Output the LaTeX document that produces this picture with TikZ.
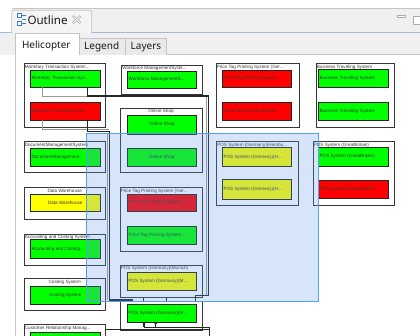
\documentclass[tikz,border=0pt]{standalone}
\usepackage{fontspec}
\setmainfont{Noto Sans}
\newfontfamily\diagfont{Liberation Sans}
\usetikzlibrary{arrows.meta}

\definecolor{uibg}{HTML}{F0F0F0}
\definecolor{uitab}{HTML}{F4F4F4}
\definecolor{uitabin}{HTML}{EAEAEA}
\definecolor{uiline}{HTML}{C4C4C4}
\definecolor{uiblue}{HTML}{A3BAD8}
\definecolor{iconblue}{HTML}{3E7BC9}
\definecolor{boxgreen}{HTML}{00FF00}
\definecolor{boxred}{HTML}{FF0000}
\definecolor{boxyellow}{HTML}{FFFF00}
\definecolor{selfill}{RGB}{92,152,232}
\definecolor{seledge}{RGB}{86,160,240}

% outer container with its title in the top left corner
\newcommand\mkouter[6]{%
  \node[outerbox, minimum width={#4pt-#2pt}, minimum height={#5pt-#3pt}] (#1) at (#2,#3) {};
  \node[titletext, anchor=north west] (#1-t) at ([xshift=0.6pt,yshift=-1.3pt]#1.north west) {#6};}
% outer container with a centred title
\newcommand\mkouterc[6]{%
  \node[outerbox, minimum width={#4pt-#2pt}, minimum height={#5pt-#3pt}] (#1) at (#2,#3) {};
  \node[titletext, anchor=north] (#1-t) at ([yshift=-1.3pt]#1.north) {#6};}
% coloured component, centred label
\newcommand\mkinner[7]{%
  \node[innerbox, fill=#6, minimum width={#4pt-#2pt}, minimum height={#5pt-#3pt}] (#1) at (#2,#3) {\makebox[0pt]{#7}};}
% coloured component, label starting at the left edge
\newcommand\mkinnerl[7]{%
  \node[innerbox, fill=#6, minimum width={#4pt-#2pt}, minimum height={#5pt-#3pt}] (#1) at (#2,#3) {};
  \node[boxtext, anchor=west] (#1-l) at ([xshift=0.9pt]#1.west) {#7};}

\begin{document}
\begin{tikzpicture}[x=1pt,y=-1pt,
  outerbox/.style={draw=black!78, line width=0.8pt, fill=white, inner sep=0pt, outer sep=0pt, anchor=north west},
  innerbox/.style={draw=black!85, line width=0.8pt, inner sep=0pt, outer sep=0pt, anchor=north west,
    font=\diagfont\fontsize{4.6}{5}\selectfont, text=black!78},
  boxtext/.style={font=\diagfont\fontsize{4.6}{5}\selectfont, text=black!78, inner sep=0pt},
  titletext/.style={font=\diagfont\fontsize{4.6}{5}\selectfont, text=black!78, inner sep=0pt},
  conn/.style={draw=black!85, line width=1.1pt},
  connlite/.style={draw=black!40, line width=0.7pt},
  tabtext/.style={font=\fontsize{10}{12}\selectfont, text=black!90, inner sep=0pt},
  tabedge/.style={draw=uiline, line width=0.7pt},
  sel/.style={fill=selfill, fill opacity=0.25},
  seledgestyle/.style={draw=seledge, line width=0.8pt}
]
\clip (0,0) rectangle (420,336);
\fill[white] (0,0) rectangle (420,336);

% ---- view toolbar ----
\fill[uibg] (11.5,8.5) rectangle (420,32.5);
\fill[uibg] (0,32.5) rectangle (420,55);
\draw[draw=uiline, line width=0.6pt] (11.5,8.6) -- (420,8.6);
\draw[draw=uiblue, line width=1.3pt] (0,32.6) -- (420,32.6);
\draw[tabedge, fill=uitab, rounded corners=2pt] (11.7,33.2) -- (11.7,10.2) -- (91.7,10.2) -- (91.7,33.2);
% outline icon
\draw[draw=iconblue, fill=white, line width=0.6pt] (16.8,13.6) rectangle (21,17.6);
\draw[draw=iconblue, fill=white, line width=0.6pt] (16.8,21.8) rectangle (21,25.8);
\draw[draw=iconblue, line width=0.6pt] (22.2,15.6) -- (25.8,15.6) (22.2,19.6) -- (25.8,19.6) (22.2,23.8) -- (25.8,23.8);
\node[font=\fontsize{11.6}{13}\selectfont, text=black!90, inner sep=0pt, anchor=west] (viewtitle) at (27.3,20.3) {Outline};
% close button
\draw[draw=gray!70, line width=2.3pt] (73,16.2) -- (80.4,23) (73,23) -- (80.4,16.2);
\draw[draw=white, line width=0.9pt] (73.3,16.5) -- (80.1,22.7) (73.3,22.7) -- (80.1,16.5);
% minimise / maximise
\draw[draw=gray!65, fill=white, line width=0.6pt] (396.8,15) rectangle (405,17.6);
\draw[draw=gray!65, fill=white, line width=0.6pt] (413.2,16.2) rectangle (424,24);
\draw[draw=gray!65, line width=1.2pt] (413.2,16.6) -- (424,16.6);

% ---- diagram tabs ----
\draw[draw=uiline, line width=0.7pt] (79,54.8) -- (420,54.8);
\draw[tabedge, fill=uitabin] (79,54.8) -- (79,38.3) -- (125,38.3) -- (125,54.8);
\draw[tabedge, fill=uitabin] (125,54.8) -- (125,38.3) -- (166.7,38.3) -- (166.7,54.8);
\fill[white] (15,55.2) rectangle (420,336);
\draw[tabedge, fill=white] (15,336) -- (15,33.5) -- (79,33.5) -- (79,55.2);
\node[tabtext, anchor=base west] (tabheli) at (21.8,48.4) {Helicopter};
\node[tabtext, anchor=base west] (tablegend) at (84,50) {Legend};
\node[tabtext, anchor=base west] (tablayers) at (130.5,50) {Layers};

% ---- column 1 ----
\mkouter{mts}{24}{63.5}{105.5}{127}{Monetary Transaction System...}
\mkinnerl{mtsA}{30.5}{70}{100}{87.5}{boxgreen}{Monetary Transaction Sys...}
\mkinnerl{mtsB}{30.5}{102.5}{100}{120.5}{boxred}{Monetary Transactions Sy...}
\mkouter{dms}{24}{141.5}{105.5}{172.5}{DocumentManagementSystem}
\mkinnerl{dmsA}{30.5}{148.5}{100}{166}{boxgreen}{DocumentManagement...}
\mkouterc{dwh}{24}{187.5}{105.5}{219}{Data Warehouse}
\mkinner{dwhA}{30.5}{194}{100}{211}{boxyellow}{Data Warehouse}
\mkouter{acs}{24}{234}{105.5}{265}{Accounting and Costing System}
\mkinnerl{acsA}{30.5}{239.5}{100}{258.5}{boxgreen}{Accounting and Costing...}
\mkouterc{cst}{24}{278.5}{105.5}{310}{Costing System}
\mkinner{cstA}{30.5}{286}{100}{304}{boxgreen}{Costing System}
\mkouter{crm}{24}{324.5}{105.5}{350}{Customer Relationship Manag...}
\mkinner{crmA}{30.5}{332.5}{100}{350}{boxgreen}{}

% ---- column 2 ----
\mkouter{wms}{121.5}{65}{202}{94}{Workforce ManagementSyste...}
\mkinnerl{wmsA}{127.5}{71}{196}{88}{boxgreen}{Workforce ManagementS...}
\mkouterc{osh}{120}{108}{202}{172.5}{Online Shop}
\mkinner{oshA}{127.5}{115.5}{196}{134}{boxgreen}{Online Shop}
\mkinner{oshB}{127.5}{148.5}{196}{166}{boxgreen}{Online Shop}
\mkouter{ptg}{120}{187.5}{202}{251}{Price Tag Printing System (Ger...}
\mkinnerl{ptgA}{127.5}{194}{196}{211}{boxred}{Price Tag Printing System...}
\mkinnerl{ptgB}{127.5}{226.5}{196}{244}{boxgreen}{Price Tag Printing System...}
\mkouter{pmu}{120}{265}{202}{297}{POS System (Germany)(Munich)}
\mkinnerl{pmuA}{127.5}{272.5}{196}{290}{boxyellow}{POS System (Germany)(M...}
\mkouter{pml}{120}{301}{202.3}{330}{}
\mkinnerl{pmlA}{127.5}{304}{196}{322}{boxgreen}{POS System (Germany)(M...}

% ---- column 3 ----
\mkouter{ptp}{216}{63.5}{299}{127}{Price Tag Printing System (Ger...}
\mkinnerl{ptpA}{222.5}{70}{291.5}{87.5}{boxred}{Price Tag Printing System...}
\mkinnerl{ptpB}{222.5}{102.5}{291.5}{120.5}{boxred}{Price Tag Printing System...}
\mkouter{phh}{216.5}{141.5}{298.5}{205}{POS System (Germany)(Hambu...}
\mkinnerl{phhA}{222.5}{147.5}{291.5}{166.5}{boxyellow}{POS System (Germany)(H...}
\mkinnerl{phhB}{222.5}{179.5}{291.5}{199}{boxyellow}{POS System (Germany)(H...}

% ---- column 4 ----
\mkouter{bts}{316}{63.5}{394}{127}{Business Traveling System}
\mkinnerl{btsA}{318.5}{69.5}{388.5}{87.5}{boxgreen}{Business Traveling System}
\mkinnerl{btsB}{318.5}{102.5}{388.5}{120.5}{boxgreen}{Business Traveling System}
\mkouter{pgb}{313}{141.5}{394.5}{205}{POS System (GreatBritain)}
\mkinnerl{pgbA}{318.5}{147.5}{388.5}{166}{boxgreen}{POS System (GreatBritain)}
\mkinnerl{pgbB}{318.5}{180}{388.5}{198.5}{boxred}{POS System (GreatBritain)}

% ---- connectors ----
\coordinate (a1) at (87.7,96);
\coordinate (a2) at (208.3,96);
\coordinate (a3) at (208.3,295.7);
\coordinate (b1) at (109.2,131.5);
\coordinate (b2) at (109.2,300);
\coordinate (c1) at (209.3,327.5);
\coordinate (c2) at (209.3,340);
\draw[connlite] ([xshift=11.5pt]mtsA.south west) |- (a1);
\draw[connlite] ([xshift=11.5pt]mtsB.south west) |- ([yshift=2pt]b1);
\draw[connlite] ([xshift=-1.6pt]a2) -- ([xshift=-1.6pt]a3);
\draw[connlite] ([xshift=-1.8pt,yshift=-1.5pt]b1) -- ([xshift=-1.8pt]b2);
\draw[conn] ([xshift=-12.3pt]mtsA.south east) |- (a2) -- (a3) -| ([xshift=-6.7pt]pml.north east);
\draw[conn] ([xshift=-12.3pt]mtsB.south east) |- (b1) -- (b2) -| ([xshift=12.3pt]pml.north west);
\draw[conn] ([xshift=23.3pt]pml.north west) -- ++(0,-2.5);
\draw[conn] ([xshift=46.7pt]pml.north west) -- ++(0,-2.5);
\draw[conn] (c2) -- (c1) -- ([xshift=16.5pt,yshift=-5.5pt]pmlA.south west);
\draw[conn, -{Triangle[length=2.2pt,width=3pt]}] ([xshift=16.5pt,yshift=-5.5pt]pmlA.south west) -- ([xshift=16.5pt]pmlA.south west);
\draw[conn, -{Triangle[length=2.2pt,width=3pt]}] ([xshift=28.2pt,yshift=-5.5pt]pmlA.south west) -- ([xshift=28.2pt]pmlA.south west);
\draw[conn] ([yshift=-4.8pt]crm.north east) -- ([yshift=-4.8pt]crm.north east -| c1);

% ---- selection rectangle ----
\fill[sel] (86,133) rectangle (318.8,301);
\draw[seledgestyle] (86,133) rectangle (318.8,301);
\end{tikzpicture}
\end{document}
